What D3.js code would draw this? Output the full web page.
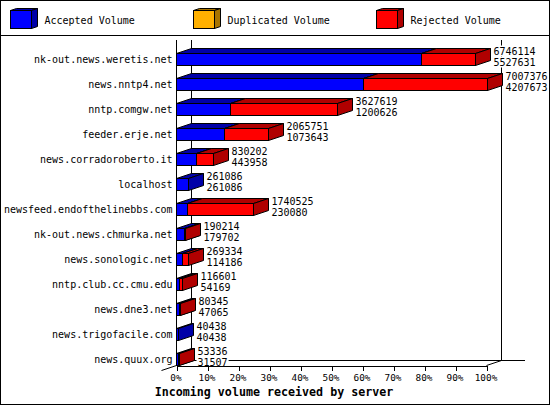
<!DOCTYPE html>
<html>
<head>
<meta charset="utf-8">
<script src="https://cdn.jsdelivr.net/npm/d3@7"></script>
<style>
  html, body { margin: 0; padding: 0; background: #fff; }
  svg { display: block; }
  text { font-family: "DejaVu Sans Mono", monospace; font-size: 10px; fill: #000; }
  .ticks text { font-size: 9.4px; }
  .title { font-weight: bold; font-size: 11.67px; }
</style>
</head>
<body>
<div id="chart"></div>
<script>
// data
var servers = ["nk-out.news.weretis.net", "news.nntp4.net", "nntp.comgw.net", "feeder.erje.net",
  "news.corradoroberto.it", "localhost", "newsfeed.endofthelinebbs.com", "nk-out.news.chmurka.net",
  "news.sonologic.net", "nntp.club.cc.cmu.edu", "news.dne3.net", "news.trigofacile.com", "news.quux.org"];
var totalVolume = [6746114, 7007376, 3627619, 2065751, 830202, 261086, 1740525, 190214, 269334, 116601, 80345, 40438, 53336];
var acceptedVolume = [5527631, 4207673, 1200626, 1073643, 443958, 261086, 230080, 179702, 114186, 54169, 47065, 40438, 31507];
var percentTicks = [0, 10, 20, 30, 40, 50, 60, 70, 80, 90, 100];
var legendNames = ["Accepted Volume", "Duplicated Volume", "Rejected Volume"];

var blue = { front: "#0000ff", dark: "#0000a8" };
var orange = { front: "#ffb000", dark: "#a87400" };
var red = { front: "#ff0000", dark: "#b00000" };
var legendColors = [blue, orange, red];

var svgWidth = 550;
var svgHeight = 405;
var depthX = 15;
var depthY = 5;
var axisY = 365.5;

var svg = d3.select("#chart").append("svg")
  .attr("width", svgWidth)
  .attr("height", svgHeight);

var x = d3.scaleLinear().domain([0, 100]).range([176.5, 486.5]);
var y = d3.scaleBand().domain(servers).range([47, 372]).paddingInner(0.52).paddingOuter(0.26);
var maxVolume = d3.max(totalVolume);
var pct = v => v / maxVolume * 100;

var shapes = svg.append("g").attr("shape-rendering", "crispEdges");

// outer frame and legend rule
shapes.append("rect").attr("x", 0.5).attr("y", 0.5).attr("width", 549).attr("height", 404)
  .attr("fill", "#fff").attr("stroke", "#000");
shapes.append("line").attr("x1", 0).attr("x2", 550).attr("y1", 35.5).attr("y2", 35.5).attr("stroke", "#000");

// legend
var legendBoxX = [10.5, 193.5, 376.5];
var legendTextX = [44.5, 227.5, 410.5];
legendNames.forEach(function(name, i) {
  var g = shapes.append("g");
  box3d(g, legendBoxX[i], legendBoxX[i] + 21, 10.5, 28.5, 6, 2, legendColors[i], legendColors[i]);
  svg.append("text").attr("x", legendTextX[i]).attr("y", 20).attr("dy", "0.35em").text(name);
});

// back wall and floor
var wall = svg.append("g").attr("stroke", "#000").attr("shape-rendering", "crispEdges");
wall.append("line").attr("x1", x(0) + depthX).attr("x2", x(0) + depthX).attr("y1", 40).attr("y2", axisY - depthY);
wall.append("line").attr("x1", x(100) + depthX).attr("x2", x(100) + depthX).attr("y1", 40).attr("y2", axisY - depthY);
wall.append("line").attr("x1", x(0) + depthX).attr("x2", 525).attr("y1", axisY - depthY).attr("y2", axisY - depthY);
wall.append("line").attr("x1", x(0)).attr("x2", x(0)).attr("y1", 40).attr("y2", axisY);
wall.append("line").attr("x1", x(0) - depthX).attr("x2", x(0)).attr("y1", axisY + depthY).attr("y2", axisY)
  .attr("shape-rendering", "auto");
wall.append("line").attr("x1", x(100)).attr("x2", x(100) + depthX).attr("y1", axisY).attr("y2", axisY - depthY)
  .attr("shape-rendering", "auto");

// a front rectangle with its top and side faces
function box3d(g, x0, x1, y0, y1, dx, dy, frontColor, sideColor) {
  g.append("path")
    .attr("d", `M${x0},${y0}L${x0 + dx},${y0 - dy}L${x1 + dx},${y0 - dy}L${x1},${y0}Z`)
    .attr("fill", frontColor.dark).attr("stroke", "#000").attr("shape-rendering", "auto");
  g.append("path")
    .attr("d", `M${x1},${y0}L${x1 + dx},${y0 - dy}L${x1 + dx},${y1 - dy}L${x1},${y1}Z`)
    .attr("fill", sideColor.dark).attr("stroke", "#000").attr("shape-rendering", "auto");
  g.append("rect").attr("x", x0).attr("y", y0).attr("width", x1 - x0).attr("height", y1 - y0)
    .attr("fill", frontColor.front).attr("stroke", "#000");
}

// bars
servers.forEach(function(name, i) {
  var g = svg.append("g").attr("shape-rendering", "crispEdges");
  var y0 = Math.floor(y(name)) + 0.5;
  var y1 = y0 + 12;
  var x0 = x(0);
  var xa = Math.round(x(pct(acceptedVolume[i]))) + 0.5;
  var xt = Math.round(x(pct(totalVolume[i]))) + 0.5;
  box3d(g, x0, xa, y0, y1, depthX, depthY, blue, blue);
  if (xt > xa) box3d(g, xa, xt, y0, y1, depthX, depthY, red, red);

  // value labels sit on a white patch that hides the wall lines
  var labelX = xt + 18;
  [totalVolume[i], acceptedVolume[i]].forEach(function(v, k) {
    var labelY = y0 + 3.5 + (k === 0 ? -5.5 : 5.5);
    var t = String(v);
    svg.append("rect").attr("x", labelX - 1).attr("y", labelY - 6)
      .attr("width", t.length * 6.02 + 2).attr("height", 11).attr("fill", "#fff");
    svg.append("text").attr("x", labelX).attr("y", labelY).attr("dy", "0.35em").text(t);
  });
});

// axes
var leftAxis = d3.axisLeft(y).tickSize(0).tickPadding(4);
var gLeft = svg.append("g").attr("transform", `translate(${x(0)},0)`).call(leftAxis);
gLeft.select(".domain").remove();
gLeft.attr("font-family", null).attr("font-size", null);

var bottomAxis = d3.axisBottom(x).tickValues(percentTicks).tickFormat(d => d + "%").tickSize(5).tickSizeOuter(0).tickPadding(4);
var gBottom = svg.append("g").attr("class", "ticks").attr("transform", `translate(0,${axisY})`).call(bottomAxis);
gBottom.attr("font-family", null).attr("font-size", null);
gBottom.selectAll("line,path").attr("stroke", "#000").attr("shape-rendering", "crispEdges");
gBottom.selectAll("text").attr("dx", -1);

svg.append("text").attr("class", "title").attr("x", 274).attr("y", 392).attr("dy", "0.35em")
  .attr("text-anchor", "middle").text("Incoming volume received by server");
</script>
</body>
</html>
